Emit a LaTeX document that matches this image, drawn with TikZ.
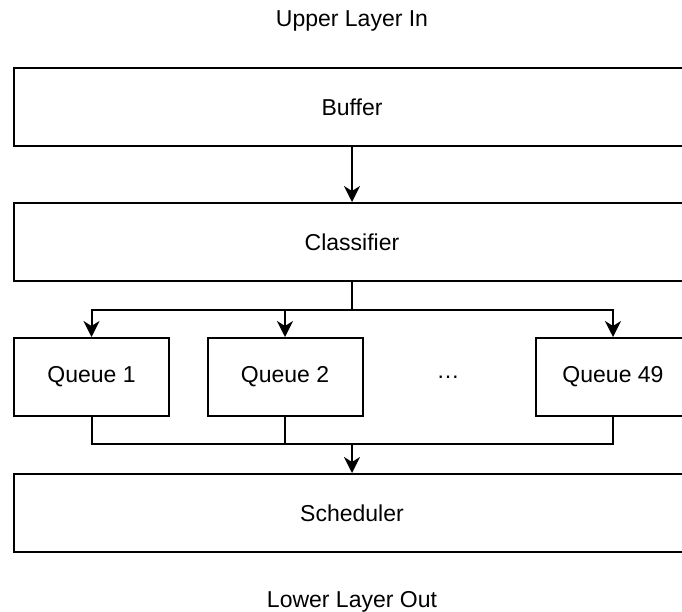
\documentclass[tikz,border=0pt]{standalone}
\usepackage{fontspec}
\setmainfont{Liberation Sans}
\usetikzlibrary{arrows.meta}
\begin{document}
\begin{tikzpicture}[x=1pt,y=-1pt,
  box/.style={draw=black,line width=2pt,minimum height=78pt,inner sep=0pt,font=\fontsize{23}{27}\selectfont},
  wide/.style={box,minimum width=676pt},
  queue/.style={box,minimum width=155pt},
  plain/.style={font=\fontsize{23}{27}\selectfont,inner sep=0pt},
  link/.style={draw=black,line width=2pt},
  arr/.style={link,-{Stealth[length=16pt,width=16pt,inset=5pt]}}]
\useasboundingbox (0,0) rectangle (682,612);
\fill[white] (0,0) rectangle (682,612);

\node[plain,anchor=base] (in) at (352,27) {Upper Layer In};
\node[wide] (buf) at (352,107) {Buffer};
\node[wide] (cls) at (352,242) {Classifier};
\node[queue] (q1) at (91.5,377) {Queue 1};
\node[queue] (q2) at (285,377) {Queue 2};
\node[plain] (dots) at (448,377) {…};
\node[queue] (q49) at (613,377) {Queue 49};
\node[wide] (sch) at (352,513) {Scheduler};
\node[plain,anchor=base] (out) at (352,607) {Lower Layer Out};

\coordinate (split) at (352,310);
\coordinate (join) at (352,444);

\draw[arr] (buf.south) -- (cls.north);
\draw[arr] (cls.south) -- (split) -| (q1.north);
\draw[arr] (split) -| (q2.north);
\draw[arr] (split) -| (q49.north);

\draw[link] (q1.south) |- (join);
\draw[link] (q49.south) |- (join);
\draw[link] (q2.south) |- (join);
\draw[arr] (join) -- (sch.north);
\end{tikzpicture}
\end{document}
